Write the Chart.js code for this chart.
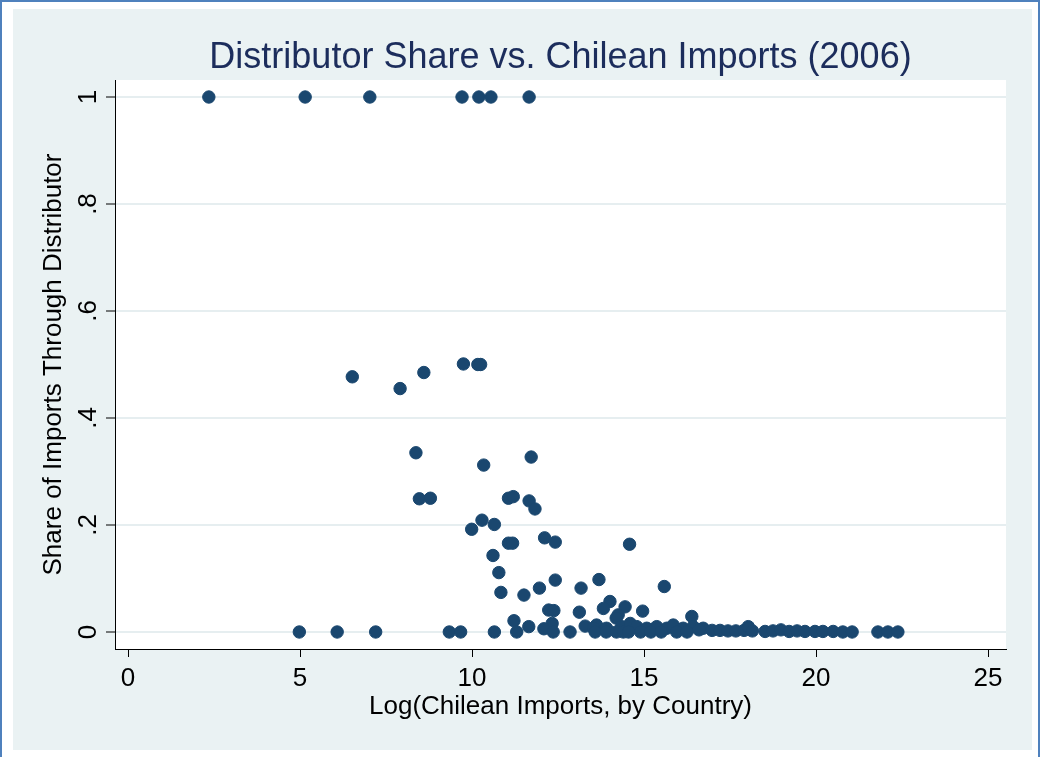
<!DOCTYPE html>
<html>
<head>
<meta charset="utf-8">
<script src="https://cdn.jsdelivr.net/npm/chart.js@4.4.1/dist/chart.umd.min.js"></script>
<style>
  html, body { margin: 0; padding: 0; background: #fff; }
  #c { display: block; }
</style>
</head>
<body>
<canvas id="c" width="1041" height="757"></canvas>
<script>
// share = 1
const fullShareX = [2.35, 5.15, 7.03, 9.71, 10.2, 10.55, 11.66];

// interior points (x = log imports, y = share)
const midX = [6.52, 7.91, 8.60, 9.75, 10.17, 10.25,
  8.37, 10.34, 11.72,
  8.47, 8.79, 11.06, 11.20, 11.66, 11.83,
  9.99, 10.29, 10.65,
  11.06, 11.18, 12.11, 12.42, 14.58,
  10.61, 10.78, 10.84,
  11.51, 11.96, 12.42, 13.17, 13.69, 15.59,
  14.01, 13.82, 14.45, 14.96, 14.25, 14.19,
  12.23, 12.38, 13.12,
  11.22, 11.65, 12.33, 12.09,
  13.29, 13.62, 13.53, 13.91, 14.35, 14.60, 14.79,
  15.08, 15.37, 15.66, 15.85, 16.14, 16.39, 16.43, 16.72];
const midY = [0.477, 0.455, 0.485, 0.501, 0.50, 0.50,
  0.335, 0.312, 0.327,
  0.249, 0.250, 0.250, 0.253, 0.245, 0.230,
  0.192, 0.209, 0.201,
  0.166, 0.166, 0.176, 0.168, 0.164,
  0.143, 0.111, 0.074,
  0.069, 0.082, 0.097, 0.082, 0.098, 0.085,
  0.057, 0.044, 0.047, 0.039, 0.032, 0.026,
  0.041, 0.040, 0.037,
  0.021, 0.010, 0.016, 0.006,
  0.011, 0.013, 0.007, 0.007, 0.010, 0.016, 0.010,
  0.007, 0.010, 0.007, 0.013, 0.007, 0.029, 0.010, 0.007];

// share = 0
const zeroShareX = [4.98, 6.08, 7.2, 9.34, 9.67, 10.65, 11.30, 12.36, 12.85, 13.58, 13.9,
  14.2, 14.4, 14.55, 14.9, 15.2, 15.5, 15.95, 16.25];

// large importers, near-zero share
const tailX = [16.6, 16.98, 17.21, 17.44, 17.67, 17.91, 18.03, 18.15, 18.52, 18.75, 18.98,
  19.22, 19.45, 19.68, 19.97, 20.2, 20.5, 20.78, 21.05, 21.8, 22.09, 22.38];
const tailY = [0.004, 0.003, 0.003, 0.002, 0.002, 0.003, 0.010, 0.002, 0.001, 0.002, 0.004,
  0.001, 0.002, 0.001, 0.001, 0.001, 0.001, 0, 0, 0, 0, 0];

const xTicks = [0, 5, 10, 15, 20, 25];
const yTicks = [0, 0.2, 0.4, 0.6, 0.8, 1];
const yTickLabels = ['0', '.2', '.4', '.6', '.8', '1'];

const points = [
  ...fullShareX.map(x => ({ x, y: 1 })),
  ...midX.map((x, i) => ({ x, y: midY[i] })),
  ...zeroShareX.map(x => ({ x, y: 0 })),
  ...tailX.map((x, i) => ({ x, y: tailY[i] })),
];

const FONT = '"Liberation Sans", Arial, Helvetica, sans-serif';
const NAVY = '#1A476F';

const backdrop = {
  id: 'backdrop',
  beforeDraw(chart) {
    const { ctx, chartArea: a } = chart;
    ctx.save();
    ctx.fillStyle = '#fff';
    ctx.fillRect(0, 0, 1041, 757);
    ctx.fillStyle = '#EAF2F3';
    ctx.fillRect(13, 9, 1019, 741);
    ctx.strokeStyle = '#4F81BD';
    ctx.lineWidth = 2;
    ctx.strokeRect(1, 1, 1038, 800);
    ctx.fillStyle = '#fff';
    ctx.fillRect(a.left, a.top, a.right - a.left, a.bottom - a.top);
    ctx.restore();
  }
};

const extraText = {
  id: 'extraText',
  afterDraw(chart) {
    const { ctx, chartArea: a } = chart;
    const yScale = chart.scales.y;
    ctx.save();
    // title
    ctx.fillStyle = '#1C2D5C';
    ctx.font = '36px ' + FONT;
    ctx.textAlign = 'center';
    ctx.textBaseline = 'alphabetic';
    ctx.fillText('Distributor Share vs. Chilean Imports (2006)', (a.left + a.right) / 2, 68);
    // rotated y tick labels
    ctx.fillStyle = '#000';
    ctx.font = '26px ' + FONT;
    yTicks.forEach((v, i) => {
      const py = yScale.getPixelForValue(v);
      ctx.save();
      ctx.translate(96, py);
      ctx.rotate(-Math.PI / 2);
      ctx.fillText(yTickLabels[i], 0, 0);
      ctx.restore();
    });
    ctx.restore();
  }
};

new Chart(document.getElementById('c'), {
  type: 'scatter',
  data: {
    datasets: [{
      data: points,
      backgroundColor: NAVY,
      borderColor: NAVY,
      borderWidth: 1,
      pointRadius: 6.2,
      pointHoverRadius: 6.2,
    }],
  },
  options: {
    responsive: false,
    animation: false,
    devicePixelRatio: 1,
    layout: { padding: { left: 14, right: 35, top: 80, bottom: 0 } },
    plugins: {
      legend: { display: false },
      tooltip: { enabled: false },
      title: { display: false },
    },
    scales: {
      x: {
        type: 'linear',
        min: -0.378,
        max: 25.523,
        afterBuildTicks: s => { s.ticks = xTicks.map(v => ({ value: v })); },
        afterFit: s => { s.height = 108; },
        border: { color: '#000', width: 1 },
        grid: { drawOnChartArea: false, drawTicks: true, tickLength: 8, tickColor: '#000', tickWidth: 1 },
        ticks: { color: '#000', font: { family: FONT, size: 26 }, padding: 6, maxRotation: 0, autoSkip: false },
        title: {
          display: true,
          text: 'Log(Chilean Imports, by Country)',
          color: '#000',
          font: { family: FONT, size: 26 },
          padding: { top: 0, bottom: 35 },
        },
      },
      y: {
        type: 'linear',
        min: -0.0318,
        max: 1.0318,
        afterBuildTicks: s => { s.ticks = yTicks.map(v => ({ value: v })); },
        afterFit: s => { s.width = 101; },
        border: { color: '#000', width: 1 },
        grid: { color: '#E6EEF0', lineWidth: 2, drawTicks: true, tickLength: 9, tickColor: '#000', tickWidth: 1 },
        ticks: { display: false },
        title: {
          display: true,
          text: 'Share of Imports Through Distributor',
          color: '#000',
          font: { family: FONT, size: 26 },
          padding: { top: 24.4, bottom: 0 },
        },
      },
    },
  },
  plugins: [backdrop, extraText],
});
</script>
</body>
</html>
